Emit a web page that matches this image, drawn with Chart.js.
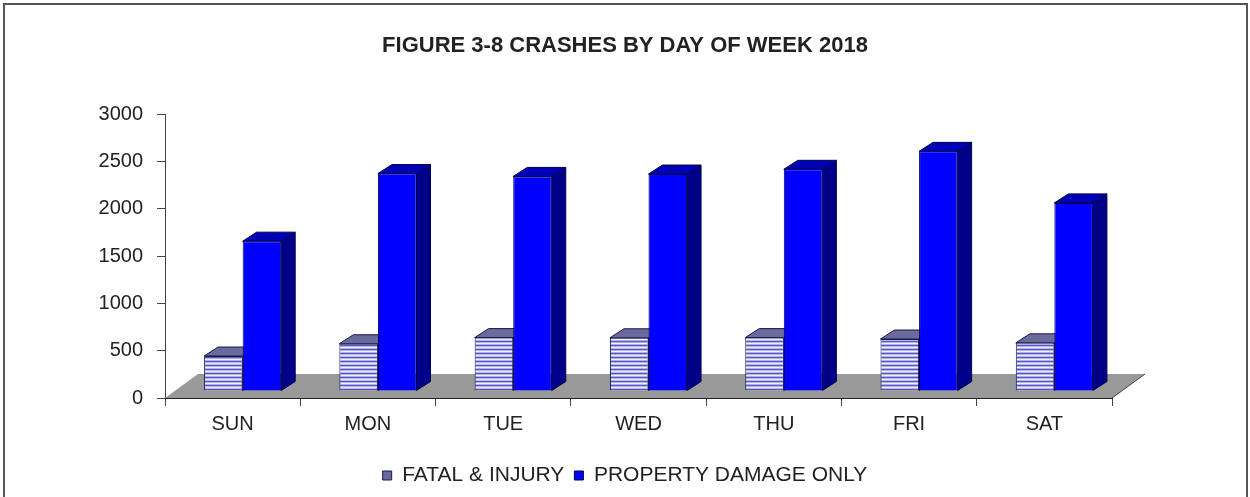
<!DOCTYPE html>
<html>
<head>
<meta charset="utf-8">
<script src="https://cdn.jsdelivr.net/npm/chart.js@4/dist/chart.umd.min.js"></script>
<style>
  html, body { margin: 0; padding: 0; background: #fff; }
  #wrap { position: relative; width: 1250px; height: 497px; overflow: hidden; }
  #frame { position: absolute; left: 3px; top: 3px; width: 1241px; height: 520px;
           border: 2px solid #555; pointer-events: none; }
  canvas { display: block; }
</style>
</head>
<body>
<div id="wrap">
  <canvas id="c" width="1250" height="497"></canvas>
  <div id="frame"></div>
</div>
<script>
// ---- data ----
const titleText = 'FIGURE 3-8 CRASHES BY DAY OF WEEK 2018';
const days = ['SUN', 'MON', 'TUE', 'WED', 'THU', 'FRI', 'SAT'];
const fatalInjury = [370, 500, 565, 563, 565, 550, 510];
const propertyDamage = [1585, 2300, 2270, 2295, 2345, 2535, 1990];
const seriesNames = ['FATAL & INJURY', 'PROPERTY DAMAGE ONLY'];
const yTicks = [0, 500, 1000, 1500, 2000, 2500, 3000];

// ---- styles ----
const FONT = '"Liberation Sans", Arial, sans-serif';
const depthBar = { dx: 14, dy: -9 };     // 3D depth of each column
const barShift = { dx: 10, dy: -7 };     // columns sit mid-depth on the floor
const floorDepth = { dx: 33, dy: -24 };  // floor depth

function hatch() {
  const p = document.createElement('canvas');
  p.width = 4; p.height = 4;
  const g = p.getContext('2d');
  const rows = ['#5a5ab8', '#b0b0f0', '#f0f0ff', '#b0b0f0'];
  rows.forEach((c, i) => { g.fillStyle = c; g.fillRect(0, i, 4, 1); });
  return g.createPattern(p, 'repeat');
}
const ctx0 = document.getElementById('c').getContext('2d');
const faces = [
  { front: hatch(), top: '#6a6a9c', side: '#40407a', border: '#1a1a50', legend: '#6a6a9c' },
  { front: '#0000ff', top: '#0000b4', side: '#000088', border: '#000050', legend: '#0000ff' }
];

const threeD = {
  id: 'threeD',
  beforeDatasetsDraw(chart) {
    const ctx = chart.ctx, a = chart.chartArea;
    // floor
    ctx.save();
    ctx.fillStyle = '#999999';
    ctx.beginPath();
    ctx.moveTo(a.left, a.bottom);
    ctx.lineTo(a.right, a.bottom);
    ctx.lineTo(a.right + floorDepth.dx, a.bottom + floorDepth.dy);
    ctx.lineTo(a.left + floorDepth.dx, a.bottom + floorDepth.dy);
    ctx.closePath();
    ctx.fill();
    ctx.strokeStyle = '#444';
    ctx.lineWidth = 1;
    ctx.beginPath();
    ctx.moveTo(a.right, a.bottom);
    ctx.lineTo(a.right + floorDepth.dx, a.bottom + floorDepth.dy);
    ctx.stroke();
    ctx.restore();

    ctx.save();
    ctx.translate(barShift.dx, barShift.dy);
    chart.data.datasets.forEach((ds, di) => {
      const meta = chart.getDatasetMeta(di);
      const f = faces[di];
      meta.data.forEach(bar => {
        const { x, y, base, width } = bar.getProps(['x', 'y', 'base', 'width'], true);
        const x0 = x - width / 2, x1 = x + width / 2;
        ctx.lineWidth = 1;
        ctx.strokeStyle = f.border;
        // side
        ctx.fillStyle = f.side;
        ctx.beginPath();
        ctx.moveTo(x1, y);
        ctx.lineTo(x1 + depthBar.dx, y + depthBar.dy);
        ctx.lineTo(x1 + depthBar.dx, base + depthBar.dy);
        ctx.lineTo(x1, base);
        ctx.closePath();
        ctx.fill(); ctx.stroke();
        // top
        ctx.fillStyle = f.top;
        ctx.beginPath();
        ctx.moveTo(x0, y);
        ctx.lineTo(x0 + depthBar.dx, y + depthBar.dy);
        ctx.lineTo(x1 + depthBar.dx, y + depthBar.dy);
        ctx.lineTo(x1, y);
        ctx.closePath();
        ctx.fill(); ctx.stroke();
      });
    });
    // translation kept for the fronts drawn by Chart.js
  },
  afterDatasetsDraw(chart) {
    chart.ctx.restore();
  }
};

new Chart(ctx0, {
  type: 'bar',
  data: {
    labels: days,
    datasets: [
      { label: seriesNames[0], data: fatalInjury, backgroundColor: faces[0].front,
        borderColor: faces[0].border, borderWidth: 1 },
      { label: seriesNames[1], data: propertyDamage, backgroundColor: faces[1].front,
        borderColor: faces[1].border, borderWidth: 1 }
    ]
  },
  options: {
    responsive: false,
    animation: false,
    events: [],
    datasets: { bar: { categoryPercentage: 0.57, barPercentage: 1.0 } },
    layout: { padding: { left: 0, right: 0, top: 0, bottom: 1 } },
    scales: {
      x: {
        afterFit(scale) { scale.height = scale.height + 13; },
        grid: { display: true, drawOnChartArea: false, offset: true, tickLength: 8, color: '#444' },
        border: { display: true, color: '#222', width: 1 },
        ticks: { font: { family: FONT, size: 20 }, color: '#222', padding: 6 }
      },
      y: {
        min: yTicks[0], max: yTicks[yTicks.length - 1],
        afterBuildTicks(scale) { scale.ticks = yTicks.map(v => ({ value: v })); },
        afterFit(scale) { scale.width = 165; },
        grid: { display: true, drawOnChartArea: false, tickLength: 8, color: '#444' },
        border: { display: true, color: '#444', width: 1 },
        ticks: { font: { family: FONT, size: 20 }, color: '#222', padding: 14,
                 callback: v => String(v) }
      },
      yRight: {
        position: 'right',
        afterFit(scale) { scale.width = 138; },
        grid: { display: false, drawTicks: false },
        border: { display: false },
        ticks: { display: false }
      }
    },
    plugins: {
      title: {
        display: true, text: titleText,
        font: { family: FONT, size: 22, weight: 'bold' }, color: '#222',
        padding: { top: 33, bottom: 55 }
      },
      legend: {
        position: 'bottom',
        labels: {
          font: { family: FONT, size: 21 }, color: '#222',
          boxWidth: 9, boxHeight: 9, padding: 10,
          generateLabels(chart) {
            return chart.data.datasets.map((ds, i) => ({
              text: ds.label, fillStyle: faces[i].legend, strokeStyle: faces[i].border,
              lineWidth: 1, hidden: false, datasetIndex: i, fontColor: '#222'
            }));
          }
        }
      },
      tooltip: { enabled: false }
    }
  },
  plugins: [threeD]
});
</script>
</body>
</html>
